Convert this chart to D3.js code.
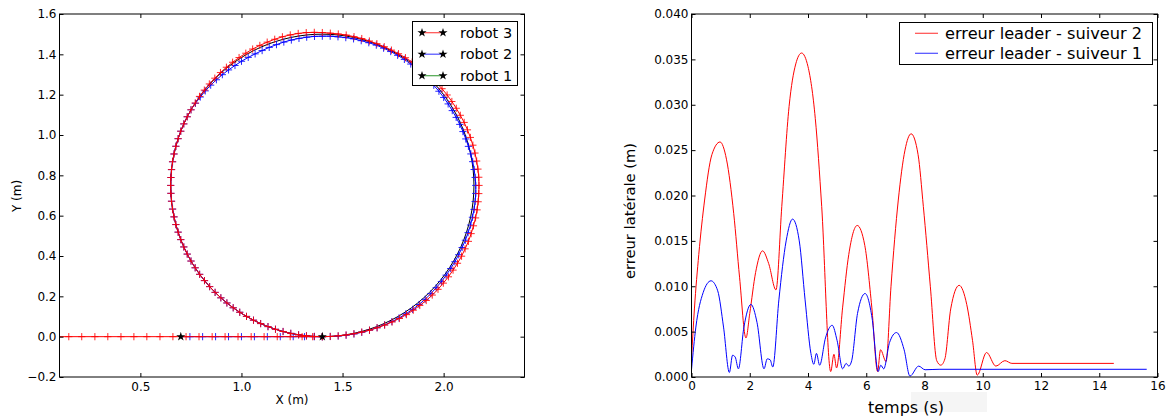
<!DOCTYPE html>
<html>
<head>
<meta charset="utf-8">
<script src="https://cdn.jsdelivr.net/npm/d3@7"></script>
<style>
  body { margin: 0; background: #fff; }
  svg text { font-family: "DejaVu Sans", sans-serif; fill: #000; }
</style>
</head>
<body>
<svg id="chart" width="1168" height="419"></svg>
<script>
// ---- left plot: trajectories ----
// loop part is read in polar form around the loop centre (degrees, counter-clockwise from +X)
const loopCenter = [1.40, 0.75]
const leaderRadius = 0.75
const loopAngles = [
  -90, -87, -84, -81, -78, -75, -72, -69, -66, -63,
  -60, -57, -54, -51, -48, -45, -42, -39, -36, -33,
  -30, -27, -24, -21, -18, -15, -12, -9, -6, -3,
  0, 3, 6, 9, 12, 15, 18, 21, 24, 27,
  30, 33, 36, 39, 42, 45, 48, 51, 54, 57,
  60, 63, 66, 69, 72, 75, 78, 81, 84, 87,
  90, 93, 96, 99, 102, 105, 108, 111, 114, 117,
  120, 123, 126, 129, 132, 135, 138, 141, 144, 147,
  150, 153, 156, 159, 162, 165, 168, 171, 174, 177,
  180, 183, 186, 189, 192, 195, 198, 201, 204, 207,
  210, 213, 216, 219, 222, 225, 228, 231, 234, 237,
  240, 243, 246, 249, 252, 255, 258, 261, 264, 267,
  270
]
const radiusRobot3 = [
  0.750, 0.750, 0.750, 0.751, 0.752, 0.753, 0.755, 0.756, 0.758, 0.760,
  0.762, 0.764, 0.765, 0.766, 0.768, 0.769, 0.770, 0.770, 0.771, 0.771,
  0.772, 0.773, 0.773, 0.774, 0.774, 0.774, 0.775, 0.775, 0.775, 0.775,
  0.775, 0.775, 0.774, 0.773, 0.772, 0.771, 0.770, 0.769, 0.768, 0.766,
  0.765, 0.764, 0.763, 0.762, 0.760, 0.759, 0.758, 0.757, 0.756, 0.755,
  0.754, 0.753, 0.753, 0.753, 0.753, 0.754, 0.754, 0.755, 0.755, 0.756,
  0.758, 0.760, 0.762, 0.763, 0.763, 0.763, 0.762, 0.761, 0.760, 0.759,
  0.757, 0.756, 0.755, 0.754, 0.753, 0.752, 0.752, 0.751, 0.751, 0.750,
  0.750, 0.750, 0.750, 0.750, 0.750, 0.750, 0.750, 0.750, 0.750, 0.750,
  0.750, 0.750, 0.750, 0.750, 0.750, 0.750, 0.750, 0.750, 0.750, 0.750,
  0.750, 0.750, 0.750, 0.750, 0.750, 0.750, 0.750, 0.750, 0.750, 0.750,
  0.750, 0.750, 0.750, 0.750, 0.750, 0.750, 0.750, 0.750, 0.750, 0.750,
  0.750
]
const radiusRobot2 = [
  0.750, 0.750, 0.751, 0.752, 0.753, 0.754, 0.755, 0.756, 0.757, 0.758,
  0.759, 0.759, 0.760, 0.760, 0.760, 0.759, 0.758, 0.758, 0.757, 0.757,
  0.757, 0.757, 0.757, 0.758, 0.758, 0.759, 0.759, 0.760, 0.760, 0.760,
  0.759, 0.757, 0.755, 0.753, 0.751, 0.748, 0.746, 0.745, 0.744, 0.743,
  0.742, 0.742, 0.742, 0.742, 0.742, 0.743, 0.743, 0.744, 0.744, 0.745,
  0.745, 0.745, 0.745, 0.745, 0.744, 0.743, 0.743, 0.742, 0.741, 0.741,
  0.740, 0.740, 0.739, 0.738, 0.737, 0.736, 0.734, 0.733, 0.732, 0.732,
  0.733, 0.734, 0.735, 0.737, 0.739, 0.741, 0.743, 0.745, 0.746, 0.748,
  0.750, 0.750, 0.750, 0.750, 0.750, 0.750, 0.750, 0.750, 0.750, 0.750,
  0.750, 0.750, 0.750, 0.750, 0.750, 0.750, 0.750, 0.750, 0.750, 0.750,
  0.750, 0.750, 0.750, 0.750, 0.750, 0.750, 0.750, 0.750, 0.750, 0.750,
  0.750, 0.750, 0.750, 0.750, 0.750, 0.750, 0.750, 0.750, 0.750, 0.750,
  0.750
]
// straight approach on y = 0 (x positions)
const straightRobot3 = [0.082, 0.146, 0.210, 0.275, 0.339, 0.404, 0.468, 0.532, 0.597, 0.661, 0.726,
  0.790, 0.855, 0.919, 0.983, 1.048, 1.112, 1.177, 1.241, 1.300, 1.352]
const straightRobot2 = [0.700, 0.745, 0.808, 0.872, 0.936, 1.000, 1.064, 1.128, 1.192, 1.256, 1.312, 1.360]
const startStars = [[0.70, 0], [1.40, 0]]

const xTicksLeft = [0.5, 1.0, 1.5, 2.0]
const yTicksLeft = [-0.2, 0.0, 0.2, 0.4, 0.6, 0.8, 1.0, 1.2, 1.4, 1.6]

// ---- right plot: lateral error ----
const timeSuiveur2 = [0, 0.1, 0.25, 0.45, 0.7, 0.98, 1.2, 1.45, 1.65, 1.87, 2.0, 2.2, 2.44, 2.65, 2.9,
  3.1, 3.35, 3.58, 3.78, 4.0, 4.25, 4.47, 4.78, 4.89, 4.98, 5.19, 5.4, 5.69, 5.95, 6.19, 6.39, 6.49,
  6.68, 6.85, 7.1, 7.33, 7.54, 7.78, 7.96, 8.2, 8.42, 8.56, 8.7, 8.9, 9.19, 9.45, 9.65, 9.81, 10.13,
  10.45, 10.76, 11.0, 14.5]
const errSuiveur2 = [0.0020, 0.0075, 0.0135, 0.0195, 0.0245, 0.0259, 0.0240, 0.0180, 0.0110, 0.0043,
  0.0070, 0.0115, 0.0139, 0.0125, 0.0096, 0.0188, 0.0298, 0.0345, 0.0357, 0.0342, 0.0285, 0.0188,
  0.0006, 0.0025, 0.0010, 0.0077, 0.0135, 0.0167, 0.0145, 0.0077, 0.0006, 0.0030, 0.0017, 0.0100,
  0.0195, 0.0250, 0.0268, 0.0245, 0.0188, 0.0100, 0.0018, 0.0013, 0.0020, 0.0075, 0.0101, 0.0080,
  0.0040, 0.0002, 0.0027, 0.0012, 0.0018, 0.0015, 0.0015]
const timeSuiveur1 = [0, 0.15, 0.4, 0.67, 0.9, 1.1, 1.30, 1.41, 1.5, 1.61, 1.8, 2.04, 2.25, 2.49, 2.6,
  2.7, 2.79, 3.0, 3.25, 3.47, 3.7, 3.9, 4.10, 4.2, 4.29, 4.40, 4.6, 4.83, 5.0, 5.19, 5.31, 5.4, 5.5,
  5.7, 5.96, 6.2, 6.41, 6.5, 6.6, 6.8, 7.04, 7.3, 7.50, 7.80, 8.02, 8.5, 15.63]
const errSuiveur1 = [0.0008, 0.0055, 0.0093, 0.0106, 0.0095, 0.0055, 0.0005, 0.0024, 0.0022, 0.0009,
  0.0055, 0.0080, 0.0060, 0.0009, 0.0020, 0.0019, 0.0011, 0.0085, 0.0150, 0.0174, 0.0150, 0.0085,
  0.0026, 0.0014, 0.0026, 0.0013, 0.0043, 0.0057, 0.0040, 0.0009, 0.0015, 0.0012, 0.0018, 0.0070,
  0.0092, 0.0065, 0.0006, 0.0013, 0.0009, 0.0038, 0.0049, 0.0030, 0.0001, 0.0012, 0.0008, 0.00085,
  0.00085]

const xTicksRight = [0, 2, 4, 6, 8, 10, 12, 14, 16]
const yTicksRight = [0, 0.005, 0.010, 0.015, 0.020, 0.025, 0.030, 0.035, 0.040]

const svg = d3.select('#chart')

// polar (angle, radius) around loop centre -> data coords, through d3.pointRadial
const toXY = (deg, r) => {
  const p = d3.pointRadial((90 - deg) * Math.PI / 180, r)
  return [loopCenter[0] + p[0], loopCenter[1] - p[1]]
}

const drawFrame = (g, x, y, xTicks, yTicks, xFmt, yFmt, xPad) => {
  const [x0, x1] = x.range()
  const [y0, y1] = y.range()
  g.append('g').attr('transform', `translate(0,${y0})`)
    .call(d3.axisBottom(x).tickValues(xTicks).tickFormat(xFmt).tickSizeInner(-4).tickSizeOuter(0).tickPadding(xPad))
  g.append('g').attr('transform', `translate(0,${y1})`)
    .call(d3.axisTop(x).tickValues(xTicks).tickFormat('').tickSizeInner(-4).tickSizeOuter(0))
  g.append('g').attr('transform', `translate(${x0},0)`)
    .call(d3.axisLeft(y).tickValues(yTicks).tickFormat(yFmt).tickSizeInner(-4).tickSizeOuter(0).tickPadding(3))
  g.append('g').attr('transform', `translate(${x1},0)`)
    .call(d3.axisRight(y).tickValues(yTicks).tickFormat('').tickSizeInner(-4).tickSizeOuter(0))
  g.selectAll('.domain').remove()
  g.selectAll('.tick line').attr('stroke', '#000')
  g.selectAll('.tick text').attr('font-size', 12).attr('fill', '#000')
  g.append('rect').attr('x', x0).attr('y', y1).attr('width', x1 - x0).attr('height', y0 - y1)
    .attr('fill', 'none').attr('stroke', '#000').attr('stroke-width', 1)
}

// ================= left =================
const xL = d3.scaleLinear([0.1, 2.4], [59.5, 524.5])
const yL = d3.scaleLinear([-0.2, 1.6], [377, 14])

svg.append('clipPath').attr('id', 'clipL').append('rect')
  .attr('x', 59.5).attr('y', 14).attr('width', 465).attr('height', 363)

const leftG = svg.append('g')
const plotL = leftG.append('g').attr('clip-path', 'url(#clipL)')

const lineL = d3.line().x(d => xL(d[0])).y(d => yL(d[1]))

const pathRobot1 = loopAngles.map(a => toXY(a, leaderRadius))
const pathRobot2 = straightRobot2.map(v => [v, 0]).concat(loopAngles.map((a, i) => toXY(a, radiusRobot2[i])))
const pathRobot3 = straightRobot3.map(v => [v, 0]).concat(loopAngles.map((a, i) => toXY(a, radiusRobot3[i])))

const plus = d3.symbol().type(d3.symbolCross)
const drawPlus = (pts, color) => {
  plotL.append('g').selectAll('path').data(pts).enter().append('path')
    .attr('transform', d => `translate(${xL(d[0])},${yL(d[1])})`)
    .attr('d', d => { const s = 3.6; return `M${-s},0H${s}M0,${-s}V${s}` })
    .attr('stroke', color).attr('stroke-width', 1).attr('stroke-opacity', 0.85).attr('fill', 'none')
}

plotL.append('path').datum(pathRobot1).attr('d', lineL)
  .attr('fill', 'none').attr('stroke', '#000').attr('stroke-width', 1)
plotL.append('path').datum(pathRobot2).attr('d', lineL)
  .attr('fill', 'none').attr('stroke', '#0000ff').attr('stroke-width', 1)
drawPlus(pathRobot2.slice(1), '#0000ff')
plotL.append('path').datum(pathRobot3).attr('d', lineL)
  .attr('fill', 'none').attr('stroke', '#ff0000').attr('stroke-width', 1)
drawPlus(pathRobot3, '#ff0000')

const star = d3.symbol().type(d3.symbolStar).size(26)
plotL.append('g').selectAll('path').data(startStars).enter().append('path')
  .attr('transform', d => `translate(${xL(d[0])},${yL(d[1])})`)
  .attr('d', star).attr('fill', '#000')

drawFrame(leftG, xL, yL, xTicksLeft, yTicksLeft, d3.format('.1f'), d3.format('.1f'), 5.5)

leftG.append('text').attr('x', 292).attr('y', 404).attr('text-anchor', 'middle')
  .attr('font-size', 12).text('X (m)')
leftG.append('text').attr('transform', 'translate(21,196) rotate(-90)').attr('text-anchor', 'middle')
  .attr('font-size', 12).text('Y (m)')

// legend left
const legL = leftG.append('g')
legL.append('rect').attr('x', 412.5).attr('y', 21.5).attr('width', 105).attr('height', 64)
  .attr('fill', '#fff').attr('stroke', '#000').attr('stroke-width', 1)
const legLItems = [['robot 3', '#ff0000'], ['robot 2', '#0000ff'], ['robot 1', '#008000']]
legLItems.forEach((e, i) => {
  const yy = 32.7 + i * 21.5
  legL.append('line').attr('x1', 422).attr('x2', 443).attr('y1', yy).attr('y2', yy)
    .attr('stroke', e[1]).attr('stroke-width', 1.2).attr('stroke-opacity', 0.7)
  ;[422, 443].forEach(xx => {
    legL.append('path').attr('transform', `translate(${xx},${yy})`).attr('d', star).attr('fill', '#000')
  })
  legL.append('text').attr('x', 460).attr('y', yy).attr('dy', '0.36em')
    .attr('font-size', 14.5).text(e[0])
})

// ================= right =================
const xR = d3.scaleLinear([0, 16], [691.5, 1157.5])
const yR = d3.scaleLinear([0, 0.04], [377, 14])

svg.append('clipPath').attr('id', 'clipR').append('rect')
  .attr('x', 691.5).attr('y', 14).attr('width', 466).attr('height', 363)

const rightG = svg.append('g')
const plotR = rightG.append('g').attr('clip-path', 'url(#clipR)')

const lineR = d3.line().x(d => xR(d[0])).y(d => yR(d[1])).curve(d3.curveMonotoneX)

plotR.append('path').datum(timeSuiveur2.map((t, i) => [t, errSuiveur2[i]])).attr('d', lineR)
  .attr('fill', 'none').attr('stroke', '#ff0000').attr('stroke-width', 1)
plotR.append('path').datum(timeSuiveur1.map((t, i) => [t, errSuiveur1[i]])).attr('d', lineR)
  .attr('fill', 'none').attr('stroke', '#0000ff').attr('stroke-width', 1)

drawFrame(rightG, xR, yR, xTicksRight, yTicksRight, d3.format('d'), d3.format('.3f'), 4)

rightG.append('rect').attr('x', 911).attr('y', 392).attr('width', 76).attr('height', 20).attr('fill', '#f5f5f5')
rightG.append('text').attr('x', 906).attr('y', 413).attr('text-anchor', 'middle')
  .attr('font-size', 16).text('temps (s)')
rightG.append('text').attr('transform', 'translate(635,211) rotate(-90)').attr('text-anchor', 'middle')
  .attr('font-size', 14.7).text('erreur latérale (m)')

// legend right
const legR = rightG.append('g')
legR.append('rect').attr('x', 899.5).attr('y', 22.5).attr('width', 253).attr('height', 42)
  .attr('fill', '#fff').attr('stroke', '#000').attr('stroke-width', 1)
const legRItems = [['erreur leader - suiveur 2', '#ff0000'], ['erreur leader - suiveur 1', '#0000ff']]
legRItems.forEach((e, i) => {
  const yy = 33.3 + i * 20
  legR.append('line').attr('x1', 915).attr('x2', 938).attr('y1', yy).attr('y2', yy)
    .attr('stroke', e[1]).attr('stroke-width', 1.2).attr('stroke-opacity', 0.7)
  legR.append('text').attr('x', 945).attr('y', yy).attr('dy', '0.36em')
    .attr('font-size', 16.2).text(e[0])
})
</script>
</body>
</html>
